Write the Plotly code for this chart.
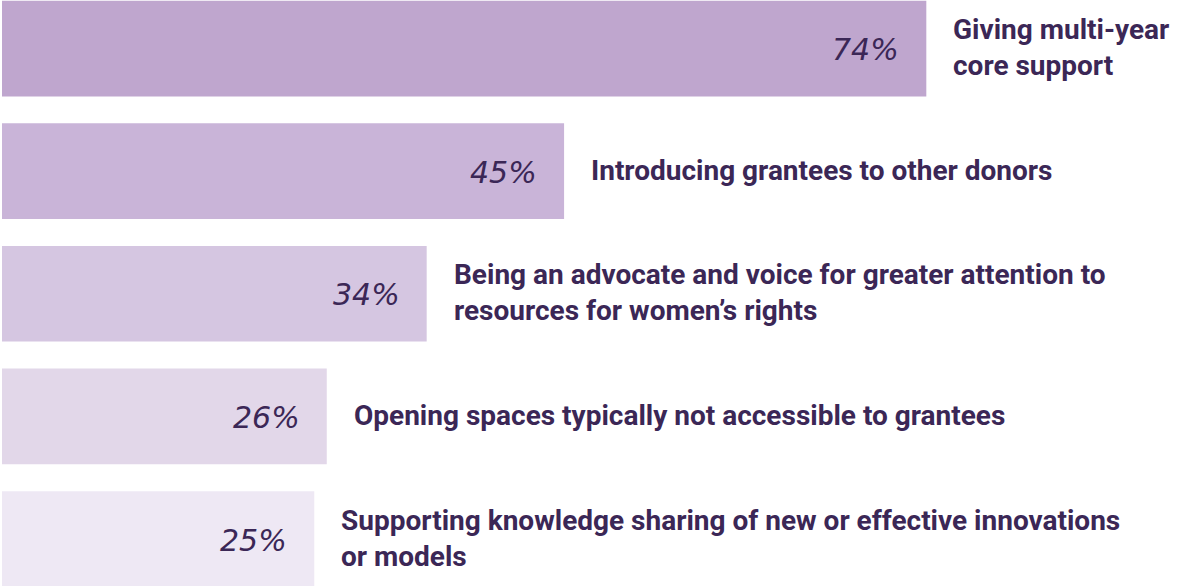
import plotly.graph_objects as go

# Share of respondents citing each donor practice
labels = [
    "Giving multi-year<br>core support",
    "Introducing grantees to other donors",
    "Being an advocate and voice for greater attention to<br>resources for women’s rights",
    "Opening spaces typically not accessible to grantees",
    "Supporting knowledge sharing of new or effective innovations<br>or models",
]
values = [74, 45, 34, 26, 25]
bar_colors = ["#bfa6ce", "#c9b4d8", "#d5c6e1", "#e2d7e9", "#eee8f4"]

TEXT_COLOR = "#3b2756"

positions = list(range(len(values)))

fig = go.Figure(
    go.Bar(
        x=values,
        y=positions,
        orientation="h",
        marker=dict(color=bar_colors, line=dict(width=0)),
        hoverinfo="skip",
    )
)

annotations = []
for pos, val, lab in zip(positions, values, labels):
    # percentage, italic, tucked inside the right end of the bar
    annotations.append(dict(
        x=val, y=pos, xref="x", yref="y",
        text=f"{val}%", showarrow=False,
        xanchor="right", yanchor="middle", xshift=-25, yshift=-1,
        font=dict(family="DejaVu Sans", size=30, color=TEXT_COLOR, style="italic", weight=300),
    ))
    # category label just past the bar end
    annotations.append(dict(
        x=val, y=pos, xref="x", yref="y",
        text=lab, showarrow=False, align="left",
        xanchor="left", yanchor="middle", xshift=25, yshift=1,
        font=dict(family="Roboto", size=28, color=TEXT_COLOR, weight=700),
    ))

fig.update_layout(
    width=1177, height=586,
    margin=dict(l=2, r=0, t=0, b=0),
    paper_bgcolor="white", plot_bgcolor="white",
    bargap=0.22,
    showlegend=False,
    xaxis=dict(range=[0, 94.07], visible=False, fixedrange=True),
    yaxis=dict(range=[4.383, -0.396], visible=False, fixedrange=True),
    annotations=annotations,
)

fig.write_html("out.html", config={"displayModeBar": False})
